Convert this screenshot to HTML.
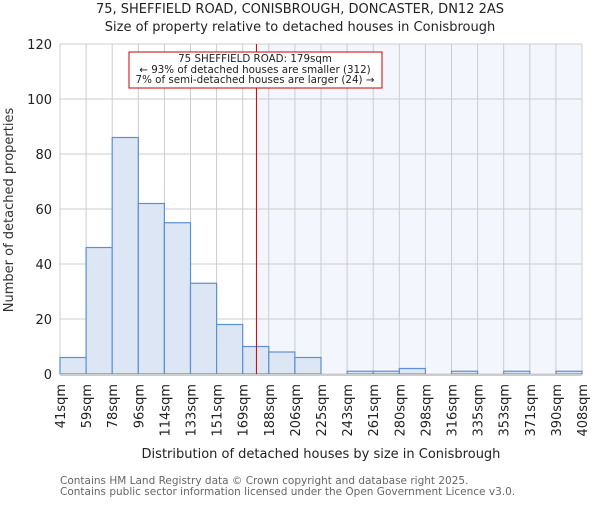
<!DOCTYPE html>
<html><head><meta charset="utf-8"><style>body{margin:0;background:#fff}svg{font-family:"DejaVu Sans","Liberation Sans",sans-serif}</style></head>
<body>
<svg width="600" height="500">
<g id="chart"></g>
</svg>
<script>
const edges=["41sqm","59sqm","78sqm","96sqm","114sqm","133sqm","151sqm","169sqm","188sqm","206sqm","225sqm","243sqm","261sqm","280sqm","298sqm","316sqm","335sqm","353sqm","371sqm","390sqm","408sqm"];
const counts=[6,46,86,62,55,33,18,10,8,6,0,1,1,2,0,1,0,1,0,1];
const yTicks=[0,20,40,60,80,100,120];
const marker=179;
const x0=60,x1=582,yTop=44,yBot=374,yMax=120;
const bw=(x1-x0)/counts.length;
const X=i=>x0+i*bw;
const Y=v=>yBot-v/yMax*(yBot-yTop);
const edgeVals=edges.map(e=>parseFloat(e));
function xVal(v){for(let i=0;i<edgeVals.length-1;i++){if(v<=edgeVals[i+1])return X(i)+(v-edgeVals[i])/(edgeVals[i+1]-edgeVals[i])*bw;}return x1;}
const g=document.getElementById('chart');const NS="http://www.w3.org/2000/svg";
function mk(t,a,txt){const e=document.createElementNS(NS,t);for(const k in a)e.setAttribute(k,a[k]);if(txt!==undefined)e.textContent=txt;g.appendChild(e);return e;}
const mx=xVal(marker);
let r=mk('rect',{x:mx,y:yTop,width:x1-mx,height:yBot-yTop,fill:'#f3f6fd'});


for(let i=0;i<=counts.length;i++){let l=mk('line',{x1:X(i),x2:X(i),y1:yTop,y2:yBot,stroke:'#cccccc','stroke-width':1});

}
yTicks.forEach(t=>{let l=mk('line',{x1:x0,x2:x1,y1:Y(t),y2:Y(t),stroke:'#cccccc','stroke-width':1});


let tx=mk('text',{x:x0-8,y:Y(t)+5,'text-anchor':'end','font-size':13,fill:'#222'},t);

});
counts.forEach((c,i)=>{if(c<=0)return;let b=mk('rect',{x:X(i),y:Y(c),width:bw,height:yBot-Y(c),fill:'#dce6f4',stroke:'#5b8fd6','stroke-width':1.2});

});
let ax=mk('line',{x1:x0,x2:x1,y1:yBot+1,y2:yBot+1,stroke:'#cccccc','stroke-width':2});


edges.forEach((e,i)=>{let t=mk('text',{transform:`translate(${X(i)+5},${yBot+10}) rotate(-90)`,'text-anchor':'end','font-size':13,fill:'#222'},e);

});
let ml=mk('line',{x1:mx,x2:mx,y1:yTop,y2:yBot,stroke:'#cc0000','stroke-width':1});


let ab=mk('rect',{x:129,y:52,width:253,height:36,fill:'#fff',stroke:'#cc0000','stroke-width':1});


[["75 SHEFFIELD ROAD: 179sqm",62],["← 93% of detached houses are smaller (312)",73],["7% of semi-detached houses are larger (24) →",83]].forEach(([s,y])=>{let t=mk('text',{x:255,y:y,'text-anchor':'middle','font-size':10.3,fill:'#222'},s);

});
let t1=mk('text',{x:300,y:13,'text-anchor':'middle','font-size':13,fill:'#222'},'75, SHEFFIELD ROAD, CONISBROUGH, DONCASTER, DN12 2AS');


let t2=mk('text',{x:300,y:31,'text-anchor':'middle','font-size':13,fill:'#222'},'Size of property relative to detached houses in Conisbrough');


let xt=mk('text',{x:321,y:458,'text-anchor':'middle','font-size':13,fill:'#222'},'Distribution of detached houses by size in Conisbrough');


let yt=mk('text',{transform:'translate(13,210) rotate(-90)','text-anchor':'middle','font-size':13,fill:'#333'},'Number of detached properties');


let f1=mk('text',{x:60,y:484,'font-size':10.5,fill:'#666'},'Contains HM Land Registry data © Crown copyright and database right 2025.');


let f2=mk('text',{x:60,y:495,'font-size':10.5,fill:'#666'},'Contains public sector information licensed under the Open Government Licence v3.0.');


</script>
</body></html>
